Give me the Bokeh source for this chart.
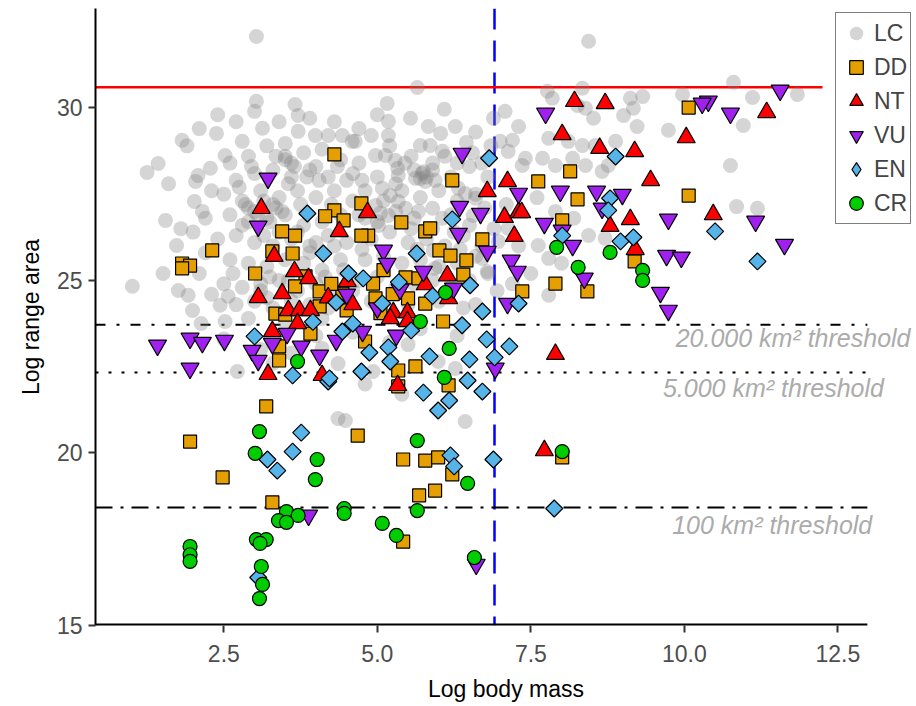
import math
from bokeh.plotting import figure
from bokeh.models import Range1d, Span, Label, FixedTicker, Legend, LegendItem
from bokeh.embed import file_html
from bokeh.resources import INLINE

# ---------------- data (log body mass, log range area) ----------------
lc_x = [3.03, 3.03, 3.66, 3.71, 3.71, 3.13, 2.38, 1.82, 1.43, 1.25, 2.80, 2.52, 2.28, 2.04, 2.08,
        1.55, 2.02, 2.15, 2.20, 1.73, 1.01, 1.51, 1.76, 1.92, 1.99, 2.57, 2.44, 3.99, 4.20, 4.43,
        3.50, 4.59,
        8.44, 5.65, 5.16, 5.18, 5.18, 5.54, 6.09, 5.83, 6.03, 6.27, 5.70, 5.86, 6.06, 7.08, 6.89,
        7.30, 7.20, 7.00, 7.13, 4.64, 4.97, 5.13, 5.33, 5.73, 5.78, 5.94, 5.62, 5.29, 5.34, 5.08,
        5.21, 5.34, 4.97, 6.32, 6.43, 7.36, 7.41, 7.77, 7.85, 8.34, 8.39, 8.26, 8.52, 7.79, 8.11,
        8.34, 8.55, 8.18, 7.90, 7.69, 8.39, 8.66, 8.76, 8.44, 8.71, 7.62, 7.79, 7.79, 6.79, 6.71,
        6.97, 7.13, 6.56, 6.60, 5.90, 6.06, 5.67, 4.80, 5.02, 5.18, 5.46, 5.91, 5.94,
        10.80, 9.97, 11.11, 11.84, 9.12, 9.32, 9.17, 9.01, 9.23, 9.74, 10.96, 10.75, 10.85, 11.19, 8.88,
        2.13, 2.52, 2.72, 4.36, 4.10, 4.36, 4.48, 5.50, 4.93, 6.43, 5.99, 6.27,
        2.6, 2.9, 3.2, 3.5, 3.8, 4.1, 4.4, 2.7, 3.0, 3.3, 3.6, 3.9, 4.2, 4.5,
        2.5, 2.8, 3.1, 3.4, 3.7, 4.0, 4.3, 4.6, 2.6, 2.9, 3.2, 3.5, 3.8, 4.1, 4.4,
        2.4, 2.7, 3.0, 3.3, 3.6, 3.9, 4.2, 4.5, 2.6, 2.9, 3.2, 3.5, 3.8, 4.1, 4.4,
        2.5, 2.8, 3.1, 3.4, 3.7, 4.0, 4.3, 4.6, 2.7, 3.0, 3.3, 3.6, 3.9, 4.2, 4.5,
        2.9, 3.5, 4.1,
        3.3, 3.35, 3.0, 3.05, 2.9, 3.6, 3.65, 3.5, 4.0, 4.35, 3.1, 3.2,
        4.7, 5.0, 5.3, 5.6, 5.9, 6.2, 6.5, 6.8, 4.8, 5.1, 5.4, 5.7, 6.0, 6.3, 6.6,
        4.7, 5.0, 5.3, 5.6, 5.9, 6.2, 6.5, 4.9, 5.2, 5.5, 5.8, 6.1, 6.4, 6.7,
        4.8, 5.1, 5.4, 5.7, 6.0, 6.3, 6.6, 4.7, 5.0, 5.3, 5.6, 5.9, 6.2, 6.5,
        4.9, 5.5, 6.0, 6.4, 5.8, 5.75, 5.7,
        2.0, 2.2, 2.3, 1.9, 2.1, 2.4, 2.7, 3.0, 3.4, 3.9, 4.3, 4.7, 5.0, 1.6, 1.8, 2.1, 2.3,
        2.5, 3.1, 3.6, 4.0, 4.6, 5.2, 5.7, 6.3, 4.8, 5.4, 3.3,
        7.3, 7.5, 8.0, 7.2, 7.1, 7.6, 8.2, 7.9,
        2.75, 2.85, 3.15, 3.25, 3.45, 3.55, 3.75, 3.85, 4.05, 4.25, 3.35, 2.95, 3.7, 3.15, 2.8,
        3.4, 4.0, 4.3, 3.9, 2.65, 3.25, 3.55, 4.15, 4.45,
        5.45, 5.55, 5.9, 6.1, 6.3, 6.55, 6.7, 5.2, 4.9, 6.45, 6.6, 6.85, 4.6, 4.75, 5.05,
        5.55, 6.25, 6.75, 6.9, 6.35, 5.65, 4.75, 6.8, 6.95, 6.6]
lc_y = [32.07, 30.19, 30.10, 29.78, 29.32, 29.41, 29.26, 29.06, 28.39, 28.13, 29.03, 28.62, 28.25, 27.87, 28.04,
        26.74, 27.29, 27.00, 26.80, 26.01, 24.83, 25.20, 24.71, 24.57, 24.13, 24.54, 24.28, 29.20, 29.20, 29.20,
        28.97, 29.03,
        31.93, 30.59, 30.13, 29.61, 29.20, 29.70, 29.96, 29.46, 29.26, 29.46, 28.91, 28.91, 28.74, 29.90, 29.70,
        29.46, 29.06, 29.03, 28.74, 29.03, 28.62, 28.62, 28.25, 28.10, 27.87, 27.90, 27.96, 28.48, 28.04, 27.67,
        27.46, 27.29, 27.17, 27.67, 27.52, 28.33, 28.54, 30.48, 30.28, 30.57, 29.99, 30.07, 29.70, 29.12, 29.03,
        28.91, 28.91, 28.54, 28.33, 28.54, 28.33, 28.16, 28.33, 26.30, 26.22, 26.01, 25.64, 24.57, 25.26, 25.64,
        26.13, 26.51, 26.88, 27.38, 27.09, 26.80, 27.00, 26.80, 26.59, 26.88, 27.09, 25.87, 25.35,
        30.74, 30.39, 30.30, 30.39, 30.28, 30.33, 29.99, 29.78, 29.46, 29.35, 29.49, 28.33, 27.14, 27.09, 29.03,
        23.75, 23.81, 22.36, 22.59, 23.03, 21.00, 20.94, 23.14, 22.36, 20.91, 22.65, 22.45,
        28.4, 28.6, 28.9, 28.6, 28.7, 28.8, 28.5, 27.9, 28.1, 28.2, 28.0, 28.2, 28.0, 27.9,
        27.5, 27.3, 27.6, 27.4, 27.6, 27.4, 27.6, 27.3, 26.9, 26.7, 26.8, 26.9, 26.6, 26.7, 26.9,
        26.2, 26.3, 26.1, 26.0, 26.2, 26.0, 26.3, 26.1, 25.6, 25.5, 25.4, 25.6, 25.5, 25.3, 25.6,
        24.9, 24.8, 24.9, 25.0, 24.7, 24.9, 24.8, 24.7, 24.3, 24.4, 24.2, 24.4, 24.3, 24.2, 24.4,
        23.9, 23.8, 23.9,
        27.2, 27.1, 27.0, 26.9, 27.1, 28.4, 28.3, 28.5, 28.3, 28.3, 24.7, 24.5,
        28.4, 28.0, 27.8, 28.2, 28.4, 28.0, 28.3, 28.0, 27.6, 27.3, 27.6, 27.4, 27.6, 27.3, 27.5,
        26.9, 26.7, 27.0, 26.8, 26.5, 26.9, 26.6, 26.2, 26.4, 26.1, 26.2, 26.0, 26.3, 26.0,
        25.6, 25.7, 25.5, 25.6, 25.4, 25.5, 25.7, 25.0, 25.1, 24.8, 24.9, 25.0, 24.8, 25.0,
        24.4, 24.3, 24.4, 24.2, 28.0, 28.15, 27.95,
        26.4, 25.8, 27.6, 28.9, 29.4, 29.8, 29.6, 29.9, 29.6, 29.7, 29.6, 29.4, 29.8, 27.8, 26.5, 25.2, 24.6,
        23.3, 23.0, 22.9, 23.4, 23.5, 23.2, 23.6, 23.4, 22.0, 21.7, 22.6,
        26.0, 25.2, 25.5, 24.9, 27.2, 27.4, 26.8, 27.0,
        27.7, 27.2, 27.3, 26.7, 27.0, 27.8, 27.2, 28.0, 27.9, 27.2, 28.6, 28.3, 26.4, 26.3, 26.6,
        26.4, 26.1, 26.0, 25.8, 25.2, 25.1, 25.0, 25.1, 25.3,
        28.4, 28.6, 28.2, 28.6, 28.4, 28.7, 28.4, 28.9, 29.2, 29.0, 29.3, 28.9, 28.1, 27.9, 26.95,
        26.5, 26.4, 27.1, 26.5, 25.9, 25.9, 25.9, 25.2, 24.7, 24.3]

dd_x = [4.30, 4.30, 4.15, 4.45, 3.45, 3.66, 2.31, 1.82, 1.95, 1.82, 3.29, 3.62, 3.01, 3.83, 3.66,
        4.06, 4.43, 4.50, 4.06, 3.34, 3.50, 6.22, 4.74, 4.85, 5.39, 5.78, 5.86, 6.71, 6.01, 6.19,
        6.45, 6.40, 5.46, 4.93, 5.67, 5.78, 5.50, 4.97, 7.36, 7.62, 8.14, 8.26, 8.01, 7.90, 8.42,
        4.74, 10.07, 10.07, 9.19, 3.91, 3.40, 3.40, 3.19, 1.95, 2.48, 3.29, 4.68, 5.42, 5.78, 5.99,
        6.22, 5.94, 5.68, 5.42, 8.01, 5.34, 5.62, 6.16, 5.34, 6.07, 4.80, 5.05, 5.25, 4.25, 5.10]
dd_y = [28.65, 27.03, 26.86, 26.74, 26.42, 26.30, 25.87, 25.49, 25.43, 25.35, 25.84, 25.78, 25.20, 25.12, 24.83,
        24.68, 24.62, 24.13, 24.25, 24.04, 24.01, 27.90, 27.23, 26.30, 26.68, 26.42, 26.51, 26.19, 25.87, 25.72,
        25.58, 25.17, 25.09, 24.91, 25.06, 24.33, 24.48, 24.48, 24.68, 27.87, 28.16, 27.35, 26.74, 24.91, 24.68,
        26.30, 30.01, 27.46, 25.55, 23.46, 22.68, 23.09, 21.35, 20.33, 19.29, 18.57, 20.50, 19.81, 19.78, 19.87,
        19.38, 18.91, 18.77, 17.43, 19.87, 22.39, 22.51, 21.96, 21.93, 23.81, 23.23, 24.05, 24.60, 24.90, 25.30]

nt_x = [3.11, 4.38, 3.32, 3.65, 3.45, 3.06, 3.88, 4.51, 3.55, 3.73, 3.91, 4.84, 6.79, 7.12, 7.07,
        7.30, 7.35, 7.23, 8.21, 8.71, 8.01, 8.62, 6.14, 5.78, 5.26, 5.49, 6.16, 8.79, 10.03, 11.34,
        9.19, 9.45, 9.12, 10.47, 9.20, 3.22, 3.29, 4.10, 3.70, 7.90, 5.33, 7.72, 5.49, 5.21, 4.20, 4.60]
nt_y = [27.09, 26.42, 25.70, 25.26, 24.62, 24.51, 25.06, 24.97, 24.13, 24.13, 24.13, 26.97, 27.58, 27.87, 26.83,
        26.97, 26.97, 26.28, 30.19, 30.13, 29.23, 28.83, 25.14, 24.88, 24.07, 24.07, 24.48, 26.57, 29.14, 29.87,
        28.74, 27.90, 26.77, 26.91, 25.90, 22.28, 23.52, 22.25, 23.75, 22.86, 21.96, 20.07, 23.81, 23.90, 24.50, 24.30]

vu_x = [3.22, 3.06, 6.38, 7.74, 7.30, 7.98, 8.57, 6.34, 6.68, 6.32, 5.10, 5.16, 6.79, 7.18, 7.28,
        7.72, 8.01, 8.18, 8.37, 5.75, 5.37, 6.24, 7.12, 8.66, 11.56, 10.39, 10.29, 10.75, 8.99, 9.74,
        11.16, 11.63, 9.71, 9.95, 9.61, 9.74, 1.42, 1.95, 1.95, 2.15, 2.51, 2.96, 3.06, 3.29, 3.53,
        3.76, 4.06, 4.33, 3.88, 4.76, 5.31, 6.92, 6.61, 4.50, 5.00]
vu_y = [27.96, 26.57, 28.68, 29.84, 27.52, 27.58, 27.58, 27.14, 26.94, 26.36, 25.87, 25.49, 25.84, 25.58, 25.26,
        26.65, 26.45, 26.01, 25.06, 25.26, 24.74, 24.77, 24.33, 27.09, 30.51, 30.19, 30.13, 29.84, 27.49, 26.77,
        26.71, 26.04, 25.72, 25.67, 24.65, 24.13, 23.12, 22.45, 23.32, 23.20, 23.26, 22.97, 22.68, 23.17, 23.46,
        23.09, 22.83, 23.26, 18.19, 23.52, 23.41, 22.45, 16.77, 24.60, 24.20]

en_x = [3.00, 3.62, 4.20, 4.22, 3.76, 3.62, 3.21, 3.37, 3.06, 4.43, 6.38, 6.78, 7.15, 4.87, 5.18,
        5.85, 6.50, 6.91, 4.74, 5.21, 6.47, 6.71, 5.75, 6.17, 5.99, 6.19, 6.25, 6.89, 7.88, 6.82,
        6.22, 5.64, 6.51, 6.71, 7.30, 8.01, 8.79, 8.76, 8.88, 9.17, 8.96, 10.50, 11.19, 5.08, 3.86,
        4.12, 4.53, 4.33, 4.77, 5.35, 5.90, 3.95, 4.60, 5.55]
en_y = [23.38, 22.25, 22.07, 22.16, 20.59, 20.04, 19.81, 19.49, 16.39, 23.52, 23.70, 23.29, 23.09, 22.91, 23.06,
        22.80, 22.71, 22.77, 22.36, 22.65, 22.10, 21.78, 21.75, 21.52, 21.23, 19.93, 19.61, 19.81, 18.39, 28.54,
        26.77, 25.78, 24.86, 24.10, 24.33, 26.30, 27.38, 27.03, 28.59, 26.25, 26.13, 26.42, 25.55, 24.33, 26.94,
        25.78, 25.20, 24.36, 25.06, 24.95, 24.55, 23.80, 23.75, 23.55]

cr_x = [3.08, 3.01, 4.02, 3.99, 3.52, 3.71, 3.39, 3.52, 4.46, 4.46, 1.95, 1.95, 1.95, 3.03, 3.19,
        3.09, 3.11, 3.13, 3.08, 3.70, 6.17, 6.09, 5.65, 6.47, 5.65, 5.08, 5.31, 6.58, 8.01, 5.70,
        6.11, 7.92, 8.27, 8.79, 9.32, 9.32]
cr_y = [20.62, 19.99, 19.81, 19.23, 18.30, 18.19, 18.04, 17.99, 18.39, 18.25, 17.29, 17.05, 16.86, 17.49, 17.49,
        17.38, 16.71, 16.19, 15.78, 22.65, 23.03, 22.19, 20.36, 19.12, 18.33, 17.96, 17.61, 16.97, 20.04, 23.81,
        24.65, 25.96, 25.38, 25.81, 25.29, 25.00]

# reference lines (log of areas in m^2, log of 1000 g)
max_range = 30.6
max_range_end = 12.25
thr_20000 = math.log(20000e6)
thr_5000 = math.log(5000e6)
thr_100 = math.log(100e6)
mass_cut = math.log(1000)
panel_end = 12.98          # right end of the drawn panel (axis line and thresholds)

x_ticks = [2.5, 5.0, 7.5, 10.0, 12.5]
x_tick_labels = ["2.5", "5.0", "7.5", "10.0", "12.5"]
y_ticks = [15, 20, 25, 30]

FONT = "Liberation Sans"
x0, x1 = 0.41, 13.78
y0, y1 = 15.0, 32.88

p = figure(width=916, height=706, x_range=Range1d(x0, x1), y_range=Range1d(y0, y1),
           output_backend="svg", toolbar_location=None,
           min_border_left=95, min_border_right=0, min_border_top=8, min_border_bottom=81)
p.outline_line_color = None
p.xgrid.visible = False
p.ygrid.visible = False
p.background_fill_color = "white"
p.border_fill_color = "white"

for ax in (p.xaxis[0], p.yaxis[0]):
    ax.axis_line_width = 2
    ax.axis_line_color = "black"
    ax.major_tick_line_width = 2
    ax.major_tick_line_color = "#333333"
    ax.major_tick_out = 7
    ax.major_tick_in = 0
    ax.minor_tick_out = 0
    ax.minor_tick_in = 0
    ax.major_label_text_color = "#4D4D4D"
    ax.major_label_text_font = FONT
    ax.major_label_text_font_size = "23px"
    ax.axis_label_text_font = FONT
    ax.axis_label_text_font_size = "23px"
    ax.axis_label_text_font_style = "normal"
    ax.axis_label_text_color = "black"

p.xaxis.axis_line_color = None     # drawn below as a glyph so it stops at the panel end
p.xaxis.ticker = FixedTicker(ticks=x_ticks)
p.xaxis.major_label_overrides = {t: l for t, l in zip(x_ticks, x_tick_labels)}
p.yaxis.ticker = FixedTicker(ticks=y_ticks)
p.xaxis.axis_label = "Log body mass"
p.yaxis.axis_label = "Log range area"
p.xaxis.major_label_standoff = 12
p.yaxis.major_label_standoff = 6
p.xaxis.axis_label_standoff = 11
p.yaxis.axis_label_standoff = 10

# reference lines
vs = Span(location=mass_cut, dimension="height", line_color="blue", line_width=2.5, line_dash="21 11")
vs.level = "underlay"
p.add_layout(vs)
p.segment(x0=[x0], y0=[max_range], x1=[max_range_end], y1=[max_range], line_color="red", line_width=2.5)
for loc, dash in ((thr_20000, "10 11 3 11"), (thr_5000, "3 10"), (thr_100, "17 8 3 8")):
    p.segment(x0=[x0], y0=[loc], x1=[panel_end], y1=[loc], line_color="black", line_width=2,
              line_dash=dash)
# x axis line
p.segment(x0=[x0], y0=[y0], x1=[panel_end], y1=[y0], line_color="black", line_width=4)

# points
r_lc = p.scatter(lc_x, lc_y, marker="circle", size=15, fill_color="#7F7F7F", fill_alpha=0.33,
                 line_color=None)
r_dd = p.scatter(dd_x, dd_y, marker="square", size=13, fill_color="#E69F00", line_color="black",
                 line_width=1.2)
r_nt = p.scatter(nt_x, nt_y, marker="triangle", size=18, fill_color="red", line_color="black",
                 line_width=1.2)
r_vu = p.scatter(vu_x, vu_y, marker="inverted_triangle", size=18, fill_color="#A020F0",
                 line_color="black", line_width=1.2)
r_en = p.scatter(en_x, en_y, marker="square", angle=math.pi / 4, size=12, fill_color="#56B4E9",
                 line_color="black", line_width=1.2)
r_cr = p.scatter(cr_x, cr_y, marker="circle", size=14, fill_color="#00CD00", line_color="black",
                 line_width=1.2)
# legend-only key for EN (diamond shape); its single point is NaN so nothing is drawn in the plot
r_en_key = p.scatter([float("nan")], [float("nan")], marker="diamond", size=12,
                     fill_color="#56B4E9", line_color="black", line_width=1.2)

# threshold labels
for tx, ty, txt in ((11.77, 23.32, "20.000 km\u00b2 threshold"),
                    (11.45, 21.87, "5.000 km\u00b2 threshold"),
                    (11.43, 17.90, "100 km\u00b2 threshold")):
    p.add_layout(Label(x=tx, y=ty, text=txt, text_align="center", text_baseline="middle",
                       text_font=FONT, text_font_style="italic", text_font_size="25px",
                       text_color="#ABABAB"))

lg = Legend(items=[LegendItem(label="LC", renderers=[r_lc]),
                   LegendItem(label="DD", renderers=[r_dd]),
                   LegendItem(label="NT", renderers=[r_nt]),
                   LegendItem(label="VU", renderers=[r_vu]),
                   LegendItem(label="EN", renderers=[r_en_key]),
                   LegendItem(label="CR", renderers=[r_cr])])
lg.location = (740, 401)
lg.border_line_color = "black"
lg.border_line_width = 1.5
lg.background_fill_color = "white"
lg.background_fill_alpha = 1.0
lg.label_text_font = FONT
lg.label_text_font_size = "23px"
lg.glyph_width = 34
lg.glyph_height = 34
lg.label_height = 34
lg.spacing = 0
lg.padding = 3
lg.margin = 0
lg.label_standoff = 1
p.add_layout(lg, "center")

open("out.html", "w").write(file_html(p, INLINE))
